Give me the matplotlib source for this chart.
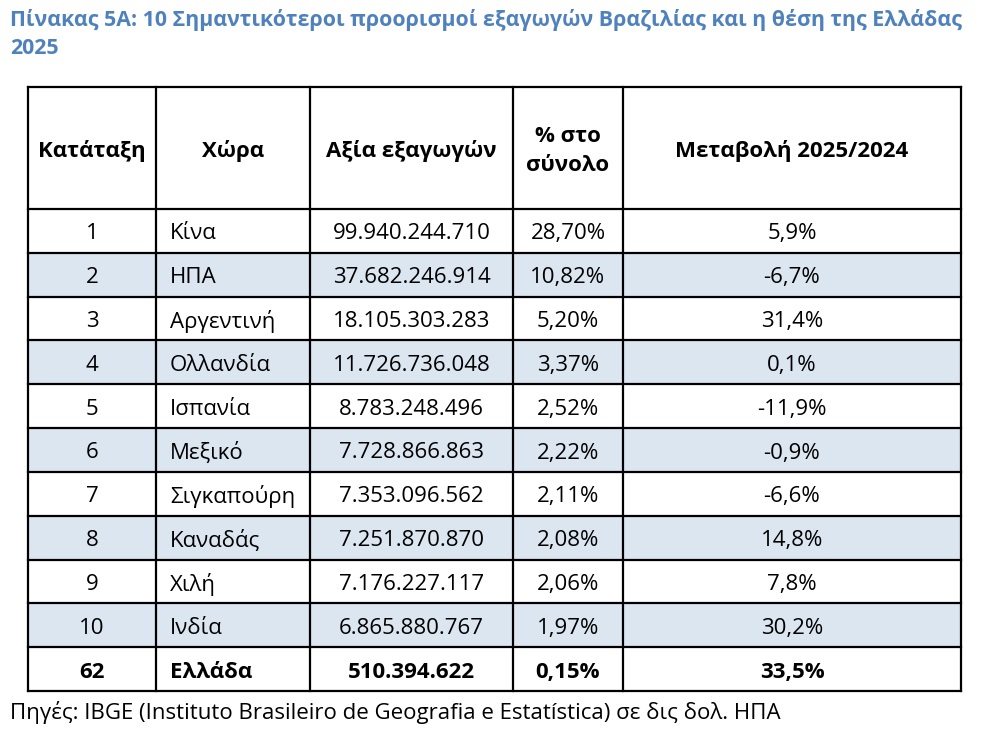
import matplotlib
matplotlib.use("Agg")
import matplotlib.pyplot as plt
from matplotlib.patches import Rectangle

plt.rcParams['font.family'] = ['Open Sans', 'DejaVu Sans']

# data
title = "Πίνακας 5Α: 10 Σημαντικότεροι προορισμοί εξαγωγών Βραζιλίας και η θέση της Ελλάδας\n2025"
headers = ["Κατάταξη", "Χώρα", "Αξία εξαγωγών", "% στο\nσύνολο", "Μεταβολή 2025/2024"]
ranks = ["1", "2", "3", "4", "5", "6", "7", "8", "9", "10", "62"]
countries = ["Κίνα", "ΗΠΑ", "Αργεντινή", "Ολλανδία", "Ισπανία", "Μεξικό",
             "Σιγκαπούρη", "Καναδάς", "Χιλή", "Ινδία", "Ελλάδα"]
values = ["99.940.244.710", "37.682.246.914", "18.105.303.283", "11.726.736.048",
          "8.783.248.496", "7.728.866.863", "7.353.096.562", "7.251.870.870",
          "7.176.227.117", "6.865.880.767", "510.394.622"]
shares = ["28,70%", "10,82%", "5,20%", "3,37%", "2,52%", "2,22%", "2,11%",
          "2,08%", "2,06%", "1,97%", "0,15%"]
changes = ["5,9%", "-6,7%", "31,4%", "0,1%", "-11,9%", "-0,9%", "-6,6%",
           "14,8%", "7,8%", "30,2%", "33,5%"]
source = "Πηγές: IBGE (Instituto Brasileiro de Geografia e Estatística) σε δις δολ. ΗΠΑ"

# layout in pixels
W, H = 987, 741
col_x = [28, 156, 310, 513, 623, 961]
top, head_bot, bot = 87, 209, 691
row_h = (bot - head_bot) / len(ranks)
fs = 16
lw = 1.6
dy = 3  # small nudge so text sits like the reference

fig = plt.figure(figsize=(W / 100, H / 100), dpi=100)
ax = fig.add_axes([0, 0, 1, 1])
ax.set_xlim(0, W)
ax.set_ylim(H, 0)
ax.axis('off')

ax.text(10, 9, title, color='#4F81BD', fontsize=15.4, fontweight='bold',
        va='top', ha='left', linespacing=1.45)

# shading
for i in range(len(ranks)):
    if i % 2 == 1 and i < 10:
        y0 = head_bot + i * row_h
        ax.add_patch(Rectangle((col_x[0], y0), col_x[-1] - col_x[0], row_h,
                               facecolor='#DCE6F1', edgecolor='none'))

# header
hy = (top + head_bot) / 2 + dy
for j, h in enumerate(headers):
    cx = (col_x[j] + col_x[j + 1]) / 2
    ax.text(cx, hy, h, ha='center', va='center', fontsize=fs,
            fontweight='bold', linespacing=1.45)

# rows
for i in range(len(ranks)):
    cy = head_bot + (i + 0.5) * row_h + dy
    wt = 'bold' if i == len(ranks) - 1 else 'normal'
    ax.text((col_x[0] + col_x[1]) / 2, cy, ranks[i], ha='center', va='center', fontsize=fs, fontweight=wt)
    ax.text(col_x[1] + 14, cy, countries[i], ha='left', va='center', fontsize=fs, fontweight=wt)
    ax.text((col_x[2] + col_x[3]) / 2, cy, values[i], ha='center', va='center', fontsize=fs, fontweight=wt)
    ax.text((col_x[3] + col_x[4]) / 2, cy, shares[i], ha='center', va='center', fontsize=fs, fontweight=wt)
    ax.text((col_x[4] + col_x[5]) / 2, cy, changes[i], ha='center', va='center', fontsize=fs, fontweight=wt)

# grid lines
ys = [top, head_bot] + [head_bot + (i + 1) * row_h for i in range(len(ranks))]
for y in ys:
    ax.plot([col_x[0], col_x[-1]], [y, y], color='black', lw=lw, solid_capstyle='projecting')
for x in col_x:
    ax.plot([x, x], [top, bot], color='black', lw=lw, solid_capstyle='projecting')

ax.text(10, 712, source, ha='left', va='center', fontsize=fs)

fig.savefig("out.png", dpi=100)
